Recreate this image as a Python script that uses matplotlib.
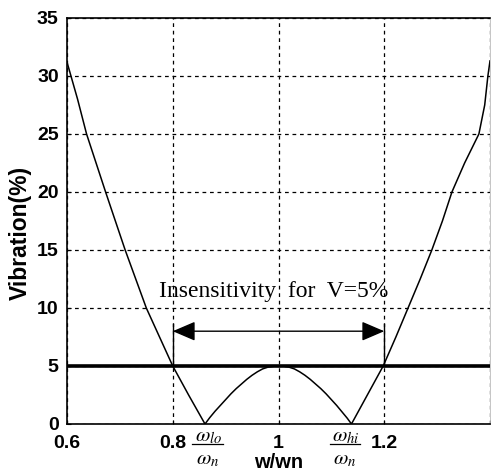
import matplotlib
matplotlib.use("Agg")
import matplotlib.pyplot as plt

plt.rcParams['mathtext.fontset'] = 'stix'

# data
freq_ratio = [0.60, 0.62, 0.637, 0.655, 0.673, 0.69, 0.71, 0.73, 0.75, 0.775, 0.80, 0.83, 0.861,
              0.87, 0.88, 0.89, 0.90, 0.91, 0.92, 0.93, 0.94, 0.95, 0.96, 0.97, 0.98, 0.99, 1.00,
              1.01, 1.02, 1.03, 1.04, 1.05, 1.06, 1.07, 1.08, 1.09, 1.10, 1.11, 1.12, 1.13, 1.138,
              1.168, 1.198, 1.222, 1.245, 1.268, 1.29, 1.31, 1.328, 1.352, 1.379, 1.39, 1.396, 1.40]
vibration = [31.2, 28.0, 25.0, 22.5, 20.0, 17.7, 15.0, 12.5, 10.0, 7.5, 5.0, 2.5, 0.0,
             0.55, 1.1, 1.6, 2.1, 2.6, 3.05, 3.45, 3.85, 4.2, 4.5, 4.75, 4.9, 4.98, 5.0,
             4.98, 4.9, 4.75, 4.5, 4.2, 3.85, 3.45, 3.05, 2.6, 2.1, 1.6, 1.05, 0.5, 0.0,
             2.5, 5.0, 7.5, 10.0, 12.5, 15.0, 17.5, 20.0, 22.5, 25.0, 27.5, 30.0, 31.3]
v_limit = 5
band_lo, band_hi = 0.8, 1.2
arrow_y = 8
xticks = [0.6, 0.8, 1.0, 1.2, 1.4]
xticklabels = ['0.6', '0.8', '1', '1.2', '']
yticks = [0, 5, 10, 15, 20, 25, 30, 35]
frac_x = [0.866, 1.126]
frac_num = [r'$\omega_{lo}$', r'$\omega_{hi}$']
frac_den = [r'$\omega_n$', r'$\omega_n$']

fig = plt.figure(figsize=(4.91, 4.75), dpi=100)
ax = fig.add_axes([67/491, 51/475, (490-67)/491, (424-18)/475])

ax.plot(freq_ratio, vibration, color='black', lw=1.1, zorder=3)
ax.axhline(v_limit, color='black', lw=2.6, zorder=3)

ax.set_xlim(0.6, 1.4)
ax.set_ylim(0, 35)
ax.set_xticks(xticks)
ax.set_xticklabels(xticklabels)
ax.set_yticks(yticks)
ax.grid(True, color='black', linestyle=(0, (3, 3)), lw=0.9)
ax.tick_params(direction='in', length=3, labelsize=14)
ax.tick_params(axis='y', pad=6)
ax.tick_params(axis='x', pad=8)
for lab in ax.get_xticklabels() + ax.get_yticklabels():
    lab.set_fontweight('bold')
    lab.set_family('Liberation Sans')
ax.spines['right'].set_color('#bbbbbb')
ax.spines['right'].set_linewidth(0.6)
for s in ['left', 'top', 'bottom']:
    ax.spines[s].set_linewidth(1.2)

# insensitivity band
ax.plot([band_lo, band_lo], [v_limit, arrow_y + 0.6], color='black', lw=1.0, zorder=4)
ax.plot([band_hi, band_hi], [v_limit, arrow_y + 0.6], color='black', lw=1.0, zorder=4)
ax.annotate('', xy=(band_lo, arrow_y), xytext=(band_hi, arrow_y),
            arrowprops=dict(arrowstyle='<|-|>,head_length=0.7,head_width=0.3', color='black', lw=1.0,
                            mutation_scale=20, shrinkA=0, shrinkB=0), zorder=4)
ax.text(0.99, 11.4, 'Insensitivity  for  V=5%', family='Liberation Serif', fontsize=17,
        ha='center', va='center', zorder=5)

ax.set_ylabel('Vibration(%)', fontsize=16.5, fontweight='bold', family='Liberation Sans')
ax.yaxis.set_label_coords(-0.083, 0.47)
ax.set_xlabel('w/wn', fontsize=14.5, fontweight='bold', family='Liberation Sans', labelpad=1)

# omega fractions under the axis
for fx, num, den in zip(frac_x, frac_num, frac_den):
    ax.text(fx + 0.002, -1.05, num, fontsize=15, ha='center', va='center', clip_on=False)
    ax.text(fx, -3.05, den, fontsize=15, ha='center', va='center', clip_on=False)
    ax.plot([fx - 0.029, fx + 0.029], [-1.75, -1.75], color='black', lw=0.9, clip_on=False)

fig.savefig('out.png', dpi=100)
